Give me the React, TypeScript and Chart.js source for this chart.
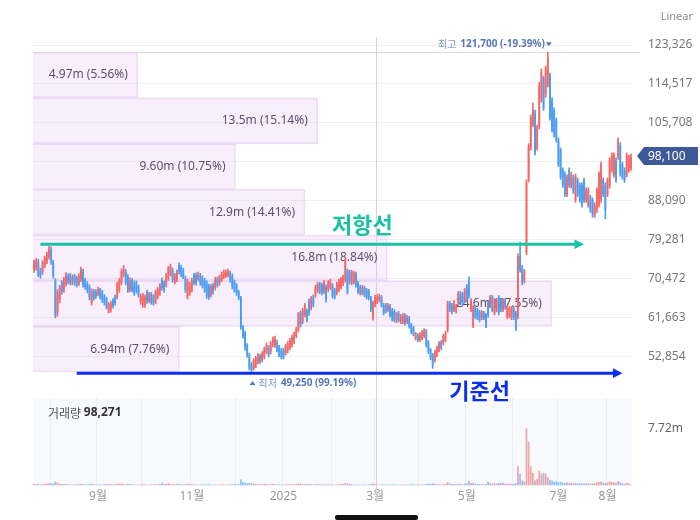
import { useEffect, useRef } from 'react';
import { Chart, registerables } from 'chart.js';

Chart.register(...registerables);

const FONT = "'Noto Sans', 'Noto Sans CJK KR', sans-serif";
const KFONT = "'Noto Sans CJK KR', 'Noto Sans', sans-serif";
const UP = '#f26868';
const DOWN = '#4a9df2';

// trading calendar (weekdays between first and last day)
const FIRST_DAY = '2024-07-22';
const LAST_DAY = '2025-08-18';
function weekdaysBetween(start: string, end: string): string[] {
  const out: string[] = [];
  const d = new Date(start + 'T00:00:00Z');
  const e = new Date(end + 'T00:00:00Z');
  while (d <= e) {
    const wd = d.getUTCDay();
    if (wd !== 0 && wd !== 6) out.push(d.toISOString().slice(0, 10));
    d.setUTCDate(d.getUTCDate() + 1);
  }
  return out;
}
const dates = weekdaysBetween(FIRST_DAY, LAST_DAY);

// prices in thousand won
const opens = [
  72.3, 72.8, 74.1, 72.1, 71.9, 73.3, 74.2, 75.3, 76.8, 74.2,
  69.8, 62.8, 65.5, 69.6, 67.8, 69.2, 71.0, 71.2, 69.4, 71.0,
  70.5, 69.2, 70.1, 71.9, 70.1, 69.2, 68.5, 64.9, 67.6, 67.4,
  66.9, 67.8, 67.4, 66.4, 65.8, 63.0, 63.3, 65.5, 66.2, 66.2,
  67.8, 69.4, 71.2, 71.9, 70.8, 67.8, 70.1, 69.4, 69.4, 68.5,
  65.1, 64.4, 64.4, 67.4, 65.3, 66.9, 66.4, 65.1, 66.2, 67.1,
  70.1, 69.4, 68.9, 70.5, 71.4, 72.3, 69.6, 70.1, 73.5, 73.0,
  72.3, 70.5, 66.2, 67.1, 67.8, 71.2, 71.2, 70.3, 71.2, 70.5,
  70.1, 69.4, 68.7, 66.7, 68.9, 68.3, 70.3, 69.4, 70.1, 70.8,
  71.0, 71.2, 71.7, 71.0, 69.6, 68.9, 67.4, 66.0, 59.4, 58.1,
  55.3, 53.1, 51.0, 50.1, 50.6, 51.5, 52.9, 51.9, 52.6, 53.8,
  54.9, 53.8, 55.3, 55.3, 56.0, 54.9, 54.2, 54.2, 53.5, 54.0,
  54.7, 55.3, 56.0, 57.4, 58.7, 62.6, 60.6, 62.1, 63.0, 65.3,
  63.7, 66.2, 66.7, 67.6, 69.2, 68.9, 67.4, 68.5, 67.8, 68.3,
  68.9, 67.8, 67.1, 67.8, 68.5, 69.2, 70.0, 72.1, 71.9, 69.4,
  69.6, 71.4, 69.4, 68.5, 67.1, 68.3, 67.8, 67.6, 66.0, 61.5,
  64.4, 65.1, 65.5, 66.2, 64.4, 64.4, 63.3, 64.2, 63.3, 63.0,
  60.8, 62.6, 60.6, 60.6, 62.1, 60.6, 61.5, 59.9, 59.2, 56.9,
  57.6, 56.5, 56.9, 57.4, 58.5, 56.0, 54.2, 53.1, 51.9, 53.1,
  54.2, 56.0, 55.8, 56.5, 58.7, 64.9, 64.4, 63.3, 63.0, 64.9,
  67.1, 66.9, 65.5, 68.7, 69.6, 63.3, 59.6, 63.9, 63.3, 62.8,
  61.5, 62.6, 62.1, 64.9, 64.2, 66.2, 62.6, 63.3, 66.2, 65.5,
  63.3, 65.5, 61.7, 61.9, 61.5, 63.7, 62.6, 61.7, 75.5, 73.0,
  69.8, 76.2, 92.8, 100.0, 105.2, 107.9, 100.0, 104.7, 110.9, 115.8,
  112.0, 114.3, 116.5, 110.9, 108.6, 106.3, 101.8, 99.5, 95.0, 94.1,
  89.5, 95.0, 91.4, 93.4, 88.2, 92.7, 91.6, 91.6, 92.7, 88.2,
  87.1, 88.8, 88.2, 84.8, 85.9, 87.1, 88.2, 92.7, 91.6, 89.5,
  91.4, 95.0, 93.9, 97.3, 97.9, 100.7, 96.3, 95.0, 93.9, 95.0,
  95.4,
];
const highs = [
  74.6, 75.0, 74.8, 72.8, 74.5, 75.5, 76.4, 77.7, 77.6, 74.6,
  70.4, 67.9, 68.9, 70.0, 70.7, 71.8, 71.5, 71.6, 71.3, 71.4,
  71.0, 71.5, 73.0, 72.6, 70.5, 69.7, 69.0, 68.1, 68.0, 67.9,
  68.5, 68.2, 67.8, 66.8, 66.2, 65.0, 65.3, 65.9, 66.7, 69.6,
  70.5, 72.6, 73.4, 72.5, 71.3, 70.6, 70.5, 69.9, 69.9, 68.9,
  66.9, 67.1, 66.7, 67.8, 67.3, 67.3, 66.8, 67.8, 68.4, 69.3,
  70.6, 69.9, 71.6, 73.2, 73.7, 72.8, 71.6, 72.4, 74.0, 73.5,
  72.8, 71.0, 70.3, 69.6, 70.5, 71.6, 71.7, 71.9, 71.6, 71.0,
  70.5, 69.9, 69.2, 69.1, 69.4, 70.7, 70.8, 71.2, 71.9, 72.4,
  72.4, 72.6, 72.1, 71.5, 70.1, 69.3, 67.8, 66.4, 59.8, 58.5,
  55.7, 53.5, 51.4, 52.3, 52.8, 53.5, 53.3, 53.9, 54.9, 55.8,
  55.3, 56.2, 57.2, 57.4, 56.5, 55.3, 54.6, 54.7, 55.5, 56.2,
  56.9, 57.6, 58.3, 59.4, 62.8, 63.1, 63.7, 64.8, 63.5, 65.8,
  66.4, 66.7, 68.9, 69.6, 69.6, 69.4, 70.0, 69.0, 70.0, 70.3,
  69.3, 68.2, 69.6, 70.3, 70.7, 71.2, 75.2, 72.6, 72.3, 72.3,
  72.1, 71.9, 69.8, 68.9, 68.9, 68.7, 68.2, 68.0, 66.4, 65.3,
  66.6, 66.8, 66.9, 66.6, 64.8, 64.8, 64.8, 64.6, 63.7, 63.4,
  62.8, 63.0, 62.3, 62.5, 62.5, 62.1, 61.9, 60.3, 59.6, 58.2,
  58.0, 58.2, 58.7, 59.1, 58.9, 56.4, 54.6, 53.5, 54.2, 55.1,
  56.2, 56.4, 57.8, 58.5, 65.3, 65.3, 64.8, 65.5, 64.6, 67.5,
  67.5, 67.3, 68.2, 69.1, 70.8, 65.9, 64.3, 64.3, 63.7, 63.2,
  63.2, 63.0, 62.5, 65.3, 66.6, 66.6, 65.9, 65.9, 66.6, 65.9,
  65.9, 65.9, 64.3, 64.1, 64.1, 64.1, 63.0, 76.0, 78.7, 73.4,
  72.5, 92.8, 101.0, 107.5, 110.2, 108.6, 105.2, 114.9, 117.9, 116.3,
  118.6, 121.7, 117.0, 111.4, 109.1, 106.8, 102.3, 100.0, 95.5, 94.6,
  93.9, 95.5, 94.6, 93.9, 94.1, 93.2, 92.1, 92.1, 93.2, 91.0,
  91.0, 89.3, 88.7, 87.6, 91.0, 94.6, 96.8, 93.2, 92.1, 93.2,
  97.8, 98.9, 98.9, 97.8, 102.3, 101.2, 96.8, 95.5, 98.9, 98.4,
  98.6,
];
const lows = [
  71.8, 72.3, 70.8, 70.5, 71.4, 72.9, 73.8, 74.8, 73.6, 70.5,
  61.5, 61.9, 64.9, 66.8, 67.3, 68.7, 69.2, 69.0, 69.0, 68.9,
  68.5, 68.8, 69.7, 68.5, 68.0, 67.2, 65.6, 64.4, 65.5, 65.9,
  66.5, 65.8, 65.0, 64.4, 63.5, 62.6, 62.8, 63.7, 64.4, 65.8,
  67.3, 69.0, 70.8, 69.0, 67.3, 67.4, 67.4, 66.6, 67.1, 66.2,
  64.6, 63.9, 63.9, 64.8, 64.9, 64.6, 64.4, 64.7, 65.8, 66.6,
  67.8, 67.3, 68.5, 70.0, 71.0, 69.6, 69.2, 69.7, 71.4, 70.8,
  70.4, 67.3, 65.8, 66.6, 67.4, 69.0, 68.9, 70.0, 68.9, 68.3,
  67.3, 65.9, 65.7, 66.2, 66.9, 67.8, 68.5, 68.9, 69.7, 70.4,
  70.6, 70.8, 69.6, 68.1, 67.3, 66.6, 65.6, 58.9, 56.9, 54.2,
  52.6, 49.7, 49.25, 49.7, 50.2, 51.1, 51.1, 51.5, 52.2, 53.4,
  52.6, 53.3, 54.9, 54.8, 53.8, 52.7, 52.2, 52.2, 53.1, 53.6,
  54.3, 54.9, 55.6, 57.0, 58.3, 59.4, 60.2, 61.7, 60.6, 62.1,
  63.3, 64.0, 66.2, 67.2, 67.0, 66.7, 67.0, 65.1, 67.4, 67.9,
  66.0, 65.8, 66.7, 67.4, 68.1, 68.8, 69.6, 66.9, 69.2, 69.0,
  69.2, 68.5, 67.0, 66.7, 66.7, 66.3, 65.8, 65.6, 62.9, 61.0,
  64.0, 64.7, 65.1, 64.0, 62.2, 62.6, 62.9, 61.7, 60.8, 60.6,
  60.4, 60.6, 60.2, 60.2, 59.9, 60.2, 59.2, 57.9, 57.4, 56.5,
  56.1, 56.1, 56.5, 57.0, 54.9, 53.4, 52.0, 50.1, 51.5, 52.7,
  53.8, 54.3, 55.4, 56.1, 58.3, 62.9, 62.4, 62.9, 62.6, 64.5,
  64.5, 64.2, 65.1, 65.1, 66.0, 62.9, 59.3, 61.3, 61.1, 60.6,
  61.1, 61.1, 59.3, 61.7, 63.8, 62.9, 62.2, 62.9, 62.2, 62.9,
  62.9, 63.5, 61.3, 61.5, 61.1, 61.1, 58.6, 61.3, 71.9, 69.0,
  69.4, 75.8, 92.3, 99.5, 104.8, 98.4, 99.5, 104.3, 110.4, 108.5,
  111.5, 113.8, 106.3, 103.6, 102.5, 101.3, 95.8, 92.9, 91.1, 89.0,
  89.0, 91.1, 90.9, 89.7, 87.7, 89.0, 87.7, 86.6, 87.7, 87.7,
  86.6, 85.4, 84.3, 84.3, 85.4, 86.6, 87.7, 89.0, 84.0, 89.0,
  90.9, 94.5, 93.4, 92.2, 97.4, 93.6, 92.9, 92.2, 93.4, 94.5,
  94.9,
];
const closes = [
  74.1, 74.6, 71.2, 71.0, 74.2, 75.1, 76.0, 77.1, 74.2, 71.0,
  62.1, 67.4, 68.5, 67.4, 70.3, 71.2, 69.6, 69.4, 70.8, 69.4,
  68.9, 71.0, 72.6, 68.9, 68.5, 67.8, 66.2, 67.6, 66.0, 66.4,
  68.0, 66.2, 65.5, 64.9, 63.9, 64.6, 64.9, 64.2, 64.9, 69.2,
  70.1, 72.1, 72.8, 69.4, 67.8, 70.1, 67.8, 67.1, 67.6, 66.7,
  66.4, 66.7, 66.2, 65.3, 66.9, 65.1, 64.9, 67.4, 68.0, 68.9,
  68.3, 67.8, 71.2, 72.8, 73.2, 70.1, 71.2, 71.9, 71.9, 71.2,
  70.8, 67.8, 69.8, 69.2, 70.1, 69.4, 69.4, 71.4, 69.4, 68.7,
  67.8, 66.4, 66.2, 68.7, 67.4, 70.3, 68.9, 70.8, 71.4, 71.9,
  71.9, 72.1, 70.1, 68.5, 67.8, 67.1, 66.0, 59.4, 57.4, 54.7,
  53.1, 50.1, 49.7, 51.9, 52.4, 53.1, 51.5, 53.5, 54.4, 55.3,
  53.1, 55.8, 56.7, 56.9, 54.2, 53.1, 52.6, 52.6, 55.1, 55.8,
  56.5, 57.2, 57.9, 59.0, 62.4, 59.9, 63.3, 64.4, 61.0, 62.6,
  66.0, 64.4, 68.5, 69.2, 67.4, 67.1, 69.6, 65.5, 69.6, 69.8,
  66.4, 66.2, 69.2, 69.8, 70.3, 70.8, 74.6, 67.3, 69.6, 71.9,
  71.7, 68.9, 67.4, 67.1, 68.5, 66.7, 66.2, 66.0, 63.3, 64.9,
  66.2, 66.4, 66.4, 64.4, 62.6, 63.0, 64.4, 62.1, 61.2, 61.0,
  62.4, 61.0, 61.9, 62.1, 60.3, 61.7, 59.6, 58.3, 57.8, 57.8,
  56.5, 57.8, 58.3, 58.7, 55.3, 53.8, 52.4, 50.8, 53.8, 54.7,
  55.8, 54.7, 57.4, 58.1, 64.9, 63.3, 62.8, 65.1, 64.2, 67.1,
  64.9, 64.6, 67.8, 65.5, 66.4, 65.5, 63.9, 61.7, 61.5, 61.0,
  62.8, 61.5, 59.6, 62.1, 66.2, 63.3, 65.5, 65.5, 62.6, 63.3,
  65.5, 63.9, 63.9, 63.7, 63.7, 61.5, 59.0, 75.5, 72.3, 69.4,
  72.1, 92.3, 100.5, 107.0, 108.6, 98.9, 104.7, 114.3, 117.2, 109.0,
  118.1, 120.4, 106.8, 104.1, 103.0, 101.8, 96.3, 93.4, 91.6, 89.5,
  93.4, 91.6, 94.1, 90.2, 93.6, 89.5, 88.2, 87.1, 88.2, 90.5,
  90.5, 85.9, 84.8, 87.1, 90.5, 94.1, 96.3, 89.5, 85.9, 92.7,
  97.3, 98.4, 98.4, 92.7, 101.8, 94.1, 93.4, 92.7, 98.4, 97.9,
  98.1,
];
// daily volume in millions of shares
const volumesM = [
  0.21, 0.18, 0.24, 0.16, 0.19, 0.22, 0.25, 0.31, 0.27, 0.29,
  0.55, 0.38, 0.24, 0.2, 0.22, 0.18, 0.14, 0.15, 0.13, 0.16,
  0.14, 0.17, 0.22, 0.19, 0.15, 0.14, 0.2, 0.24, 0.16, 0.13,
  0.12, 0.14, 0.15, 0.17, 0.21, 0.23, 0.18, 0.15, 0.14, 0.26,
  0.24, 0.29, 0.22, 0.19, 0.2, 0.17, 0.15, 0.14, 0.12, 0.15,
  0.16, 0.18, 0.14, 0.13, 0.12, 0.15, 0.14, 0.17, 0.16, 0.2,
  0.42, 0.22, 0.26, 0.3, 0.24, 0.2, 0.17, 0.18, 0.21, 0.16,
  0.15, 0.22, 0.25, 0.18, 0.17, 0.14, 0.13, 0.12, 0.14, 0.15,
  0.16, 0.19, 0.17, 0.14, 0.13, 0.16, 0.12, 0.13, 0.14, 0.15,
  0.13, 0.14, 0.15, 0.18, 0.17, 0.16, 0.2, 0.82, 0.48, 0.36,
  0.31, 0.34, 0.29, 0.27, 0.22, 0.19, 0.17, 0.18, 0.2, 0.21,
  0.16, 0.19, 0.2, 0.18, 0.15, 0.14, 0.13, 0.12, 0.15, 0.16,
  0.17, 0.16, 0.18, 0.2, 0.28, 0.24, 0.22, 0.21, 0.19, 0.2,
  0.18, 0.16, 0.19, 0.2, 0.15, 0.14, 0.16, 0.18, 0.15, 0.14,
  0.16, 0.13, 0.15, 0.17, 0.18, 0.2, 0.34, 0.29, 0.2, 0.17,
  0.15, 0.16, 0.15, 0.13, 0.12, 0.14, 0.13, 0.14, 0.22, 0.27,
  0.19, 0.15, 0.13, 0.14, 0.16, 0.14, 0.12, 0.15, 0.16, 0.14,
  0.13, 0.12, 0.13, 0.12, 0.14, 0.12, 0.15, 0.17, 0.16, 0.13,
  0.14, 0.13, 0.14, 0.15, 0.24, 0.26, 0.25, 0.31, 0.24, 0.19,
  0.18, 0.15, 0.17, 0.2, 0.46, 0.28, 0.2, 0.22, 0.18, 0.25,
  0.22, 0.18, 0.24, 0.28, 0.62, 0.33, 0.36, 0.24, 0.2, 0.18,
  0.17, 0.16, 0.21, 0.48, 0.3, 0.26, 0.32, 0.28, 0.38, 0.35,
  0.4, 0.26, 0.24, 0.22, 0.25, 0.2, 0.3, 2.6, 1.6, 0.7,
  0.55, 7.72, 5.9, 2.6, 1.7, 0.7, 0.9, 2.0, 1.6, 1.7,
  1.6, 1.1, 0.8, 0.7, 0.52, 0.6, 0.45, 0.5, 0.4, 0.36,
  0.42, 0.33, 0.38, 0.3, 0.36, 0.28, 0.3, 0.27, 0.26, 0.3,
  0.28, 0.25, 0.27, 0.32, 0.45, 0.5, 0.55, 0.38, 0.35, 0.42,
  0.56, 0.48, 0.44, 0.4, 0.62, 0.46, 0.3, 0.28, 0.4, 0.32,
  0.098271,
];

// axes
const priceTicks = [52854, 61663, 70472, 79281, 88090, 96899, 105708, 114517, 123326];
const PRICE_MIN = 44045;
const PRICE_MAX = 125150;
const VOLUME_MAX = 11.8;
const monthTickKeys = ['2024-09', '2024-11', '2025-01', '2025-03', '2025-05', '2025-07', '2025-08'];
const monthTickLabels = ['9월', '11월', '2025', '3월', '5월', '7월', '8월'];

// volume profile (bottom bin to top bin)
const profileVolumesM = [6.94, 24.6, 16.8, 12.9, 9.6, 13.5, 4.97];
const profileShares = [7.76, 27.55, 18.84, 14.41, 10.75, 15.14, 5.56];
const PROFILE_AXIS_MAX = 28.4;

// drawn levels
const resistanceLine = { label: '저항선', price: 78200, from: '2024-07-25', to: '2025-07-17', labelAt: '2025-02-21', color: '#17c3a2', offset: -20 };
const supportLine = { label: '기준선', price: 49000, from: '2024-08-19', to: '2025-08-12', labelAt: '2025-05-09', color: '#0b2ff2', offset: 18 };
const CROSSHAIR_DAY = '2025-03-03';

const toWon = (k: number) => Math.round(k * 1000);
const fmt = (n: number) => Math.round(n).toLocaleString('en-US');

const N = Math.min(dates.length, opens.length, highs.length, lows.length, closes.length);
const isUp = closes.slice(0, N).map((c, i) => c >= opens[i]);
const candleColors = isUp.map((u) => (u ? UP : DOWN));
const volColors = isUp.map((u) => (u ? 'rgba(242,104,104,0.6)' : 'rgba(74,157,242,0.6)'));

const maxHighK = Math.max(...highs.slice(0, N));
const minLowK = Math.min(...lows.slice(0, N));
const hiIdx = highs.indexOf(maxHighK);
const loIdx = lows.indexOf(minLowK);
const lastClose = toWon(closes[N - 1]);
const maxHigh = toWon(maxHighK);
const minLow = toWon(minLowK);
const binSize = (maxHigh - minLow) / profileVolumesM.length;
const binEdges = Array.from({ length: profileVolumesM.length + 1 }, (_, i) => minLow + i * binSize);
const binMids = profileVolumesM.map((_, i) => minLow + (i + 0.5) * binSize);

const monthStarts = new Set<number>();
for (let i = 1; i < N; i++) if (dates[i].slice(0, 7) !== dates[i - 1].slice(0, 7)) monthStarts.add(i);
function tickLabelFor(i: number): string {
  if (!monthStarts.has(i)) return '';
  const k = monthTickKeys.indexOf(dates[i].slice(0, 7));
  return k >= 0 ? monthTickLabels[k] : '';
}

function tri(ctx: any, cx: number, cy: number, down: boolean, color: string) {
  ctx.fillStyle = color;
  ctx.beginPath();
  if (down) {
    ctx.moveTo(cx - 3, cy - 2); ctx.lineTo(cx + 3, cy - 2); ctx.lineTo(cx, cy + 2);
  } else {
    ctx.moveTo(cx - 3, cy + 2); ctx.lineTo(cx + 3, cy + 2); ctx.lineTo(cx, cy - 2);
  }
  ctx.closePath();
  ctx.fill();
}

function drawLevel(ctx: any, xs: any, ys: any, lv: any) {
  const yy = ys.getPixelForValue(lv.price);
  const x1 = xs.getPixelForValue(dates.indexOf(lv.from));
  const x2 = xs.getPixelForValue(dates.indexOf(lv.to));
  ctx.strokeStyle = lv.color;
  ctx.lineWidth = 3;
  ctx.beginPath(); ctx.moveTo(x1, yy); ctx.lineTo(x2 - 8, yy); ctx.stroke();
  ctx.fillStyle = lv.color;
  ctx.beginPath(); ctx.moveTo(x2, yy); ctx.lineTo(x2 - 9.5, yy - 4.8); ctx.lineTo(x2 - 9.5, yy + 4.8); ctx.closePath(); ctx.fill();
  ctx.font = `bold 22px ${KFONT}`;
  ctx.textAlign = 'center';
  ctx.textBaseline = 'middle';
  ctx.fillText(lv.label, xs.getPixelForValue(dates.indexOf(lv.labelAt)), yy + lv.offset);
}

const priceDecor = {
  id: 'priceDecor',
  beforeDatasetsDraw(chart: any) {
    const { ctx, chartArea: a, scales } = chart;
    ctx.save();
    ctx.lineWidth = 1;
    const hy = Math.round(scales.y.getPixelForValue(maxHigh)) + 0.5;
    ctx.strokeStyle = '#dadada';
    ctx.beginPath(); ctx.moveTo(a.left, hy); ctx.lineTo(a.right + 8, hy); ctx.stroke();
    const cx = Math.round(scales.x.getPixelForValue(dates.indexOf(CROSSHAIR_DAY))) + 1.5;
    ctx.strokeStyle = '#d4d4d4';
    ctx.beginPath(); ctx.moveTo(cx, a.top); ctx.lineTo(cx, chart.height); ctx.stroke();
    ctx.restore();
  },
  afterDatasetDraw(chart: any, args: any) {
    if (args.index !== 0) return;
    const { ctx } = chart;
    ctx.save();
    ctx.font = `12px ${FONT}`;
    ctx.fillStyle = '#5e5069';
    ctx.textAlign = 'right';
    ctx.textBaseline = 'middle';
    args.meta.data.forEach((el: any, i: number) => {
      ctx.fillText(`${profileVolumesM[i].toPrecision(3)}m (${profileShares[i].toFixed(2)}%)`, el.x - 10, el.y);
    });
    ctx.restore();
  },
  afterDraw(chart: any) {
    const { ctx, chartArea: a, scales } = chart;
    const xs = scales.x, ys = scales.y;
    ctx.save();
    const blue = '#5876b6', light = '#8399c8';
    // highest
    const hiPct = (((lastClose - maxHigh) / maxHigh) * 100).toFixed(2);
    const hx = xs.getPixelForValue(hiIdx);
    const hy = ys.getPixelForValue(maxHigh) - 8;
    tri(ctx, hx + 1, hy, true, blue);
    ctx.textBaseline = 'middle';
    ctx.textAlign = 'right';
    let cur = hx - 3;
    const hiTxt = `${fmt(maxHigh)} (${hiPct}%)`;
    ctx.font = `bold 10px ${FONT}`; ctx.fillStyle = blue; ctx.fillText(hiTxt, cur, hy);
    cur -= ctx.measureText(hiTxt).width + 4;
    ctx.font = `10px ${KFONT}`; ctx.fillStyle = light; ctx.fillText('최고', cur, hy);
    // lowest
    const loPct = (((lastClose - minLow) / minLow) * 100).toFixed(2);
    const lx = xs.getPixelForValue(loIdx);
    const ly = ys.getPixelForValue(minLow) + 11;
    tri(ctx, lx + 1, ly, false, blue);
    ctx.textAlign = 'left';
    cur = lx + 7;
    ctx.font = `10px ${KFONT}`; ctx.fillStyle = light; ctx.fillText('최저', cur, ly);
    cur += ctx.measureText('최저').width + 4;
    ctx.font = `bold 10px ${FONT}`; ctx.fillStyle = blue; ctx.fillText(`${fmt(minLow)} (${loPct}%)`, cur, ly);
    // drawn levels
    drawLevel(ctx, xs, ys, resistanceLine);
    drawLevel(ctx, xs, ys, supportLine);
    // last price tag
    const ty = Math.round(ys.getPixelForValue(lastClose));
    const left = a.right + 5;
    ctx.fillStyle = '#3e5898';
    ctx.beginPath();
    ctx.moveTo(left, ty); ctx.lineTo(left + 7, ty - 9); ctx.lineTo(chart.width - 2, ty - 9);
    ctx.lineTo(chart.width - 2, ty + 9); ctx.lineTo(left + 7, ty + 9); ctx.closePath();
    ctx.fill();
    ctx.fillStyle = '#ffffff';
    ctx.font = `12px ${FONT}`;
    ctx.textAlign = 'left';
    ctx.textBaseline = 'middle';
    ctx.fillText(fmt(lastClose), a.right + 16, ty + 0.5);
    // scale mode
    ctx.fillStyle = '#8a8a8a';
    ctx.font = `11px ${FONT}`;
    ctx.textAlign = 'right';
    ctx.fillText('Linear', chart.width - 7, 17);
    ctx.restore();
  },
};

const volumeDecor = {
  id: 'volumeDecor',
  beforeDraw(chart: any) {
    const { ctx, chartArea: a } = chart;
    ctx.save();
    ctx.fillStyle = '#f7f9fc';
    ctx.fillRect(a.left, a.top, a.right - a.left, a.bottom - a.top);
    ctx.restore();
  },
  afterDraw(chart: any) {
    const { ctx, chartArea: a, scales } = chart;
    ctx.save();
    const cx = Math.round(scales.x.getPixelForValue(dates.indexOf(CROSSHAIR_DAY))) + 1.5;
    ctx.strokeStyle = '#d4d4d4';
    ctx.lineWidth = 1;
    ctx.beginPath(); ctx.moveTo(cx, 0); ctx.lineTo(cx, a.bottom + 17); ctx.stroke();
    ctx.textBaseline = 'middle';
    ctx.textAlign = 'left';
    ctx.font = `12px ${KFONT}`;
    ctx.fillStyle = '#555555';
    const lbl = '거래량 ';
    ctx.fillText(lbl, a.left + 15, a.top + 15);
    const w = ctx.measureText(lbl).width;
    ctx.font = `bold 12px ${FONT}`;
    ctx.fillStyle = '#333333';
    ctx.fillText(fmt(volumesM[N - 1] * 1e6), a.left + 15 + w, a.top + 15);
    ctx.restore();
  },
};

export default function App() {
  const priceRef = useRef<HTMLCanvasElement>(null);
  const volRef = useRef<HTMLCanvasElement>(null);

  useEffect(() => {
    document.body.style.margin = '0';
    if (!priceRef.current || !volRef.current) return;
    const labels = dates.slice(0, N);

    const priceChart = new Chart(priceRef.current, {
      type: 'bar',
      data: {
        labels,
        datasets: [
          {
            label: 'profile',
            indexAxis: 'y',
            xAxisID: 'xp',
            yAxisID: 'yp',
            data: profileVolumesM.map((v, i) => ({ x: v, y: binMids[i] })),
            backgroundColor: 'rgba(235, 200, 245, 0.3)',
            borderColor: 'rgba(226, 206, 238, 0.65)',
            borderWidth: 1,
            categoryPercentage: 1,
            barPercentage: 1,
            grouped: false,
            order: 3,
          } as any,
          {
            label: 'wick',
            xAxisID: 'x',
            yAxisID: 'y',
            data: lows.slice(0, N).map((l, i) => [toWon(l), toWon(highs[i])]),
            backgroundColor: candleColors,
            barThickness: 1,
            grouped: false,
            order: 2,
          } as any,
          {
            label: 'body',
            xAxisID: 'x',
            yAxisID: 'y',
            data: opens.slice(0, N).map((o, i) => [toWon(o), toWon(closes[i])]),
            backgroundColor: candleColors,
            categoryPercentage: 1,
            barPercentage: 0.82,
            grouped: false,
            order: 1,
          } as any,
        ],
      },
      options: {
        responsive: false,
        animation: false,
        events: [],
        layout: { padding: { left: 33, right: 0, top: 37, bottom: 10 } },
        plugins: { legend: { display: false }, tooltip: { enabled: false } },
        scales: {
          x: { type: 'category', display: false, offset: true, grid: { display: false } },
          xp: { type: 'linear', axis: 'x', display: false, offset: false, min: 0, max: PROFILE_AXIS_MAX },
          yp: {
            type: 'linear', axis: 'y', display: false, offset: false, min: PRICE_MIN, max: PRICE_MAX,
            afterBuildTicks: (s: any) => { s.ticks = binEdges.map((v) => ({ value: v })); },
          },
          y: {
            type: 'linear',
            position: 'right',
            offset: false,
            min: PRICE_MIN,
            max: PRICE_MAX,
            afterBuildTicks: (s: any) => { s.ticks = priceTicks.map((v) => ({ value: v })); },
            afterFit: (s: any) => { s.width = 68; },
            grid: { color: '#efefef', drawTicks: true, tickLength: 16, tickColor: 'rgba(0,0,0,0)' },
            border: { display: false },
            ticks: {
              padding: 0,
              font: { size: 12, family: FONT },
              color: (c: any) => {
                const ys = c.chart.scales.y;
                if (!ys || !c.tick) return '#777777';
                return Math.abs(ys.getPixelForValue(c.tick.value) - ys.getPixelForValue(lastClose)) < 14 ? 'rgba(0,0,0,0)' : '#777777';
              },
              callback: (v: any) => fmt(Number(v)),
            },
          },
        },
      } as any,
      plugins: [priceDecor],
    });

    const volChart = new Chart(volRef.current, {
      type: 'bar',
      data: {
        labels,
        datasets: [
          {
            label: '거래량',
            data: volumesM.slice(0, N),
            backgroundColor: volColors,
            categoryPercentage: 1,
            barPercentage: 0.8,
          },
        ],
      },
      options: {
        responsive: false,
        animation: false,
        events: [],
        layout: { padding: { left: 33, right: 0, top: 10, bottom: 12 } },
        plugins: { legend: { display: false }, tooltip: { enabled: false } },
        scales: {
          x: {
            type: 'category',
            offset: true,
            grid: {
              drawTicks: false,
              color: (c: any) => (monthStarts.has(c.index) ? '#eaedf3' : 'rgba(0,0,0,0)'),
            },
            border: { display: false },
            ticks: {
              autoSkip: false,
              maxRotation: 0,
              minRotation: 0,
              padding: 4,
              color: '#999999',
              font: { size: 12, family: FONT },
              callback: (_v: any, i: number) => tickLabelFor(i),
            },
          },
          y: {
            position: 'right',
            min: 0,
            max: VOLUME_MAX,
            afterBuildTicks: (s: any) => { s.ticks = [{ value: Math.max(...volumesM) }]; },
            afterFit: (s: any) => { s.width = 68; },
            grid: { display: false, drawTicks: true, tickLength: 16, tickColor: 'rgba(0,0,0,0)' },
            border: { display: false },
            ticks: {
              padding: 0,
              color: '#666666',
              font: { size: 12, family: FONT },
              callback: (v: any) => `${Number(v).toFixed(2)}m`,
            },
          },
        },
      } as any,
      plugins: [volumeDecor],
    });

    return () => {
      priceChart.destroy();
      volChart.destroy();
    };
  }, []);

  return (
    <div style={{ position: 'absolute', left: 0, top: 0, width: 700, height: 520, background: '#ffffff', overflow: 'hidden' }}>
      <div style={{ position: 'absolute', left: 0, top: 388, width: 700, height: 132, zIndex: 1 }}>
        <canvas ref={volRef} width={700} height={132} style={{ width: 700, height: 132, display: 'block' }} />
      </div>
      <div style={{ position: 'absolute', left: 0, top: 0, width: 700, height: 405, zIndex: 2, pointerEvents: 'none' }}>
        <canvas ref={priceRef} width={700} height={405} style={{ width: 700, height: 405, display: 'block' }} />
      </div>
      <div style={{ position: 'absolute', left: 335, top: 515, width: 83, height: 5, background: '#111111', borderRadius: 2, zIndex: 3 }} />
    </div>
  );
}
